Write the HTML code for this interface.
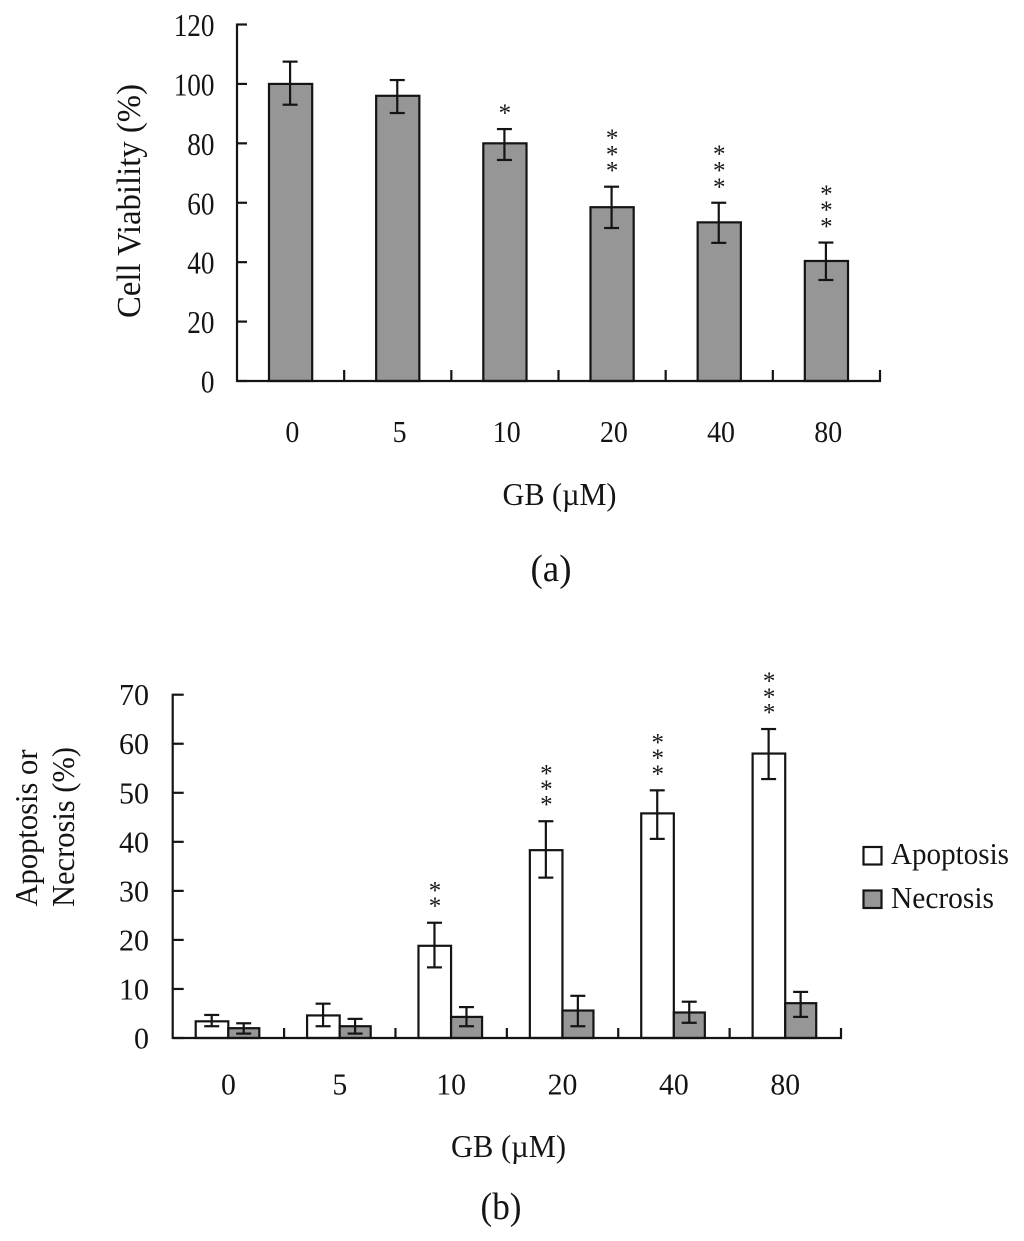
<!DOCTYPE html>
<html lang="en">
<head>
<meta charset="utf-8">
<title>Cell viability and apoptosis or necrosis by GB dose</title>
<style>
html,body{margin:0;padding:0;background:#fff}
svg{display:block;filter:blur(0.35px)}
text{font-family:"Liberation Serif","Times New Roman",serif;fill:#141414}
</style>
</head>
<body>
<svg id="figure" xmlns="http://www.w3.org/2000/svg" width="1024" height="1241" viewBox="0 0 1024 1241">
  <rect width="1024" height="1241" fill="#fff"/>
  <text transform="translate(140,201) rotate(-90)" text-anchor="middle" font-size="34" textLength="234" lengthAdjust="spacingAndGlyphs">Cell Viability (%)</text>
  <text x="559.5" y="505" text-anchor="middle" font-size="32" textLength="114" lengthAdjust="spacingAndGlyphs">GB (µM)</text>
  <text x="551" y="581" text-anchor="middle" font-size="38" textLength="41" lengthAdjust="spacingAndGlyphs">(a)</text>
  <text transform="translate(37,828) rotate(-90)" text-anchor="middle" font-size="32" textLength="157" lengthAdjust="spacingAndGlyphs">Apoptosis or</text>
  <text transform="translate(74,827) rotate(-90)" text-anchor="middle" font-size="32" textLength="160" lengthAdjust="spacingAndGlyphs">Necrosis (%)</text>
  <text x="508.5" y="1157" text-anchor="middle" font-size="32" textLength="115" lengthAdjust="spacingAndGlyphs">GB (µM)</text>
  <text x="501" y="1219" text-anchor="middle" font-size="38" textLength="41" lengthAdjust="spacingAndGlyphs">(b)</text>
  <rect x="863.5" y="847" width="18" height="17.5" fill="#fff" stroke="#141414" stroke-width="2.2"/>
  <text x="891" y="864" font-size="31" textLength="118" lengthAdjust="spacingAndGlyphs">Apoptosis</text>
  <rect x="863.5" y="890.5" width="18" height="17.5" fill="#969696" stroke="#141414" stroke-width="2.2"/>
  <text x="891" y="908" font-size="31" textLength="103" lengthAdjust="spacingAndGlyphs">Necrosis</text>
</svg>
<script>
const doseLabels = ['0', '5', '10', '20', '40', '80'];

const viabilityTicks = [0, 20, 40, 60, 80, 100, 120];
const viabilityValues = [100, 96, 80, 58.5, 53.4, 40.4];
const viabilityErrorHigh = [107.5, 101.3, 84.8, 65.4, 60, 46.6];
const viabilityErrorLow = [93, 90.2, 74.4, 51.5, 46.5, 34];
const viabilityStars = [0, 0, 1, 3, 3, 3];

const deathTicks = [0, 10, 20, 30, 40, 50, 60, 70];
const apoptosisValues = [3.4, 4.6, 18.8, 38.3, 45.8, 58];
const apoptosisErrorHigh = [4.7, 7, 23.5, 44.2, 50.5, 63];
const apoptosisErrorLow = [2.4, 2.4, 14.4, 32.7, 40.6, 52.8];
const necrosisValues = [2, 2.4, 4.3, 5.6, 5.2, 7.1];
const necrosisErrorHigh = [3, 3.9, 6.3, 8.6, 7.4, 9.4];
const necrosisErrorLow = [0.9, 0.9, 2.4, 2.4, 3.1, 4.3];
const deathStars = [0, 0, 2, 3, 3, 3];

const svg = document.getElementById('figure');
const ink = '#141414';

function make(tag, attrs, content) {
  const el = document.createElementNS('http://www.w3.org/2000/svg', tag);
  for (const key in attrs) el.setAttribute(key, attrs[key]);
  if (content !== undefined) el.textContent = content;
  svg.appendChild(el);
  return el;
}

function drawLine(x1, y1, x2, y2, width, name) {
  const el = make('line', {x1: x1, y1: y1, x2: x2, y2: y2, stroke: ink, 'stroke-width': width});
  
  
}

function drawBar(left, width, top, base, fill, name) {
  const el = make('rect', {x: left, y: top, width: width, height: base - top, fill: fill, stroke: ink, 'stroke-width': 2.2});
  
  
}

function drawError(cx, high, low, cap, name) {
  drawLine(cx, high, cx, low, 2.2, name + '-stem');
  drawLine(cx - cap, high, cx + cap, high, 2.2, name + '-cap-high');
  drawLine(cx - cap, low, cx + cap, low, 2.2, name + '-cap-low');
}

function drawStars(cx, errTop, count, gap, spacing, name) {
  for (let i = 0; i < count; i++) {
    const star = make('text', {x: cx, y: errTop - gap - i * spacing + 11.5, 'text-anchor': 'middle', 'font-size': 25}, '*');
    
    
  }
}

function drawTickLabel(x, y, value, size, squeeze, anchor, name) {
  const t = make('text', {x: 0, y: 0, 'text-anchor': anchor, 'font-size': size, transform: 'translate(' + x + ',' + y + ') scale(' + squeeze + ',1)'}, value);
  
  
}

/* Panel (a): cell viability */
const aLeft = 237, aRight = 880, aBase = 381, aTop = 24.5, aMax = 120;
const aStep = (aRight - aLeft) / doseLabels.length;
const aY = v => aBase - v * (aBase - aTop) / aMax;
const aCenter = i => aLeft + aStep * (i + 0.5);

viabilityTicks.forEach(function (tick) {
  drawLine(aLeft, aY(tick), aLeft + 10, aY(tick), 2.2, 'viability-y-tick');
  drawTickLabel(214.5, aY(tick) + 11.5, String(tick), 32, 0.85, 'end', 'viability-y-tick-label');
});
doseLabels.forEach(function (label, i) {
  drawLine(aLeft + aStep * (i + 1), aBase, aLeft + aStep * (i + 1), aBase - 11, 2.2, 'viability-x-tick');
  drawTickLabel(aCenter(i) + 1.8, 442, label, 31, 0.9, 'middle', 'viability-x-tick-label');
});
viabilityValues.forEach(function (value, i) {
  drawBar(aCenter(i) - 21.6, 43.2, aY(value), aBase, '#969696', 'viability-bar');
  drawError(aCenter(i) - 0.5, aY(viabilityErrorHigh[i]), aY(viabilityErrorLow[i]), 7.5, 'viability-error');
  drawStars(aCenter(i), aY(viabilityErrorHigh[i]), viabilityStars[i], 19.5, 16.4, 'viability-significance-star');
});
drawLine(aLeft, aTop - 1, aLeft, aBase + 1, 2.2, 'viability-y-axis');
drawLine(aLeft, aBase, aRight + 1, aBase, 2.2, 'viability-x-axis');

/* Panel (b): apoptosis and necrosis */
const bLeft = 172.7, bRight = 841, bBase = 1038, bTop = 694.7, bMax = 70;
const bStep = (bRight - bLeft) / doseLabels.length;
const bY = v => bBase - v * (bBase - bTop) / bMax;
const bGroup = i => bLeft + bStep * i + 23;

deathTicks.forEach(function (tick) {
  drawLine(bLeft, bY(tick), bLeft + 11, bY(tick), 2.2, 'death-y-tick');
  drawTickLabel(149, bY(tick) + 10.5, String(tick), 31, 0.97, 'end', 'death-y-tick-label');
});
doseLabels.forEach(function (label, i) {
  drawLine(bLeft + bStep * (i + 1), bBase, bLeft + bStep * (i + 1), bBase - 10, 2.2, 'death-x-tick');
  drawTickLabel(bLeft + bStep * (i + 0.5), 1094.5, label, 31, 0.96, 'middle', 'death-x-tick-label');
});
apoptosisValues.forEach(function (value, i) {
  const left = bGroup(i);
  drawBar(left, 32.6, bY(value), bBase, '#fff', 'apoptosis-bar');
  drawBar(left + 32.6, 31, bY(necrosisValues[i]), bBase, '#969696', 'necrosis-bar');
  drawError(left + 16, bY(apoptosisErrorHigh[i]), bY(apoptosisErrorLow[i]), 7.5, 'apoptosis-error');
  drawError(left + 48, bY(necrosisErrorHigh[i]), bY(necrosisErrorLow[i]), 7.5, 'necrosis-error');
  drawStars(left + 16.5, bY(apoptosisErrorHigh[i]), deathStars[i], 20, 15.7, 'death-significance-star');
});
drawLine(bLeft, bTop - 1, bLeft, bBase + 1, 2.2, 'death-y-axis');
drawLine(bLeft, bBase, bRight + 1, bBase, 2.2, 'death-x-axis');
</script>
</body>
</html>
